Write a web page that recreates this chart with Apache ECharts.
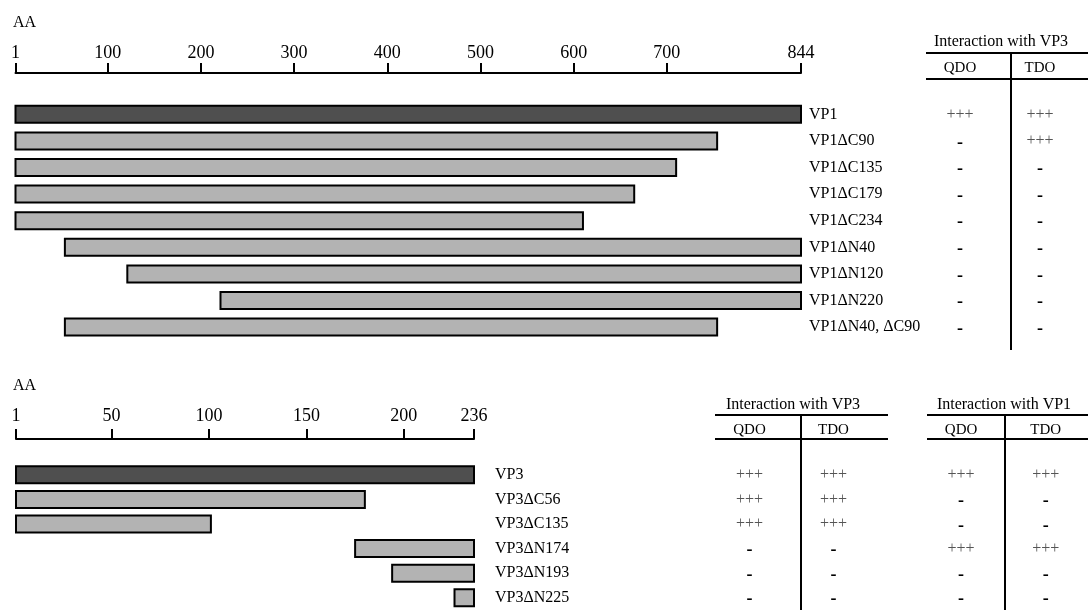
<!DOCTYPE html>
<html>
<head>
<meta charset="utf-8">
<script src="https://cdn.jsdelivr.net/npm/echarts@6/dist/echarts.min.js"></script>
<style>
html,body{margin:0;padding:0;background:#fff;}
#chart{width:1088px;height:610px;}
</style>
</head>
<body>
<div id="chart"></div>
<script>
// ---------- DATA ----------
const vp1Ticks = [1, 100, 200, 300, 400, 500, 600, 700, 844];
const vp1Names = ['VP1', 'VP1ΔC90', 'VP1ΔC135', 'VP1ΔC179', 'VP1ΔC234', 'VP1ΔN40', 'VP1ΔN120', 'VP1ΔN220', 'VP1ΔN40, ΔC90'];
const vp1Start = [1, 1, 1, 1, 1, 54, 121, 221, 54];
const vp1End = [844, 754, 710, 665, 610, 844, 844, 844, 754];
const vp1QdoWithVP3 = ['+++', '-', '-', '-', '-', '-', '-', '-', '-'];
const vp1TdoWithVP3 = ['+++', '+++', '-', '-', '-', '-', '-', '-', '-'];

const vp3Ticks = [1, 50, 100, 150, 200, 236];
const vp3Names = ['VP3', 'VP3ΔC56', 'VP3ΔC135', 'VP3ΔN174', 'VP3ΔN193', 'VP3ΔN225'];
const vp3Start = [1, 1, 1, 175, 194, 226];
const vp3End = [236, 180, 101, 236, 236, 236];
const vp3QdoWithVP3 = ['+++', '+++', '+++', '-', '-', '-'];
const vp3TdoWithVP3 = ['+++', '+++', '+++', '-', '-', '-'];
const vp3QdoWithVP1 = ['+++', '-', '-', '+++', '-', '-'];
const vp3TdoWithVP1 = ['+++', '-', '-', '+++', '-', '-'];

const tableCols = ['QDO', 'TDO'];
const headerVP3 = 'Interaction with VP3';
const headerVP1 = 'Interaction with VP1';
const unitLabel = 'AA';

// ---------- STYLE ----------
const SERIF = '"Liberation Serif", "DejaVu Serif", serif';
const chart = echarts.init(document.getElementById('chart'), null, {renderer: 'canvas'});

function barSeries(xi, yi, starts, ends, h) {
  return {
    type: 'custom', xAxisIndex: xi, yAxisIndex: yi, silent: true,
    data: starts.map((s, i) => [i, s, ends[i]]),
    encode: {x: [1, 2], y: 0},
    renderItem: function (params, api) {
      const r = api.value(0);
      const a = api.coord([api.value(1), r]);
      const b = api.coord([api.value(2), r]);
      return {
        type: 'rect',
        shape: {x: a[0], y: a[1] - h / 2, width: b[0] - a[0], height: h},
        style: {fill: r === 0 ? '#4f4f4f' : '#b3b3b3', stroke: '#000', lineWidth: 2}
      };
    }
  };
}

function tableSeries(xi, yi, cols) {
  const data = [];
  cols.forEach((col, c) => col.forEach((t, r) => data.push([c, r, t])));
  return {
    type: 'custom', xAxisIndex: xi, yAxisIndex: yi, silent: true,
    data: data.map(d => [d[0], d[1]]),
    encode: {x: 0, y: 1},
    renderItem: function (params, api) {
      const p = api.coord([api.value(0), api.value(1)]);
      const t = data[params.dataIndex][2];
      const dash = t === '-';
      return {
        type: 'text', x: p[0], y: p[1] + (dash ? 2 : 0),
        style: {
          text: t, align: 'center', verticalAlign: 'middle',
          font: dash ? 'bold 18px ' + SERIF : '16px ' + SERIF,
          fill: dash ? '#000' : '#555'
        }
      };
    }
  };
}

function rulerAxis(grid, min, max, ticks, offset, margin) {
  return {
    type: 'value', gridIndex: grid, min: min, max: max, position: 'top', offset: offset,
    axisLine: {show: true, lineStyle: {color: '#000', width: 2}},
    axisTick: {show: true, customValues: ticks, length: 10, inside: false, lineStyle: {color: '#000', width: 2}},
    axisLabel: {show: true, customValues: ticks, margin: margin, showMinLabel: true, showMaxLabel: true,
      fontFamily: SERIF, fontSize: 18, color: '#000', formatter: v => String(v)},
    splitLine: {show: false}
  };
}

function tableXAxis(grid, margin) {
  return {
    type: 'category', gridIndex: grid, data: tableCols, position: 'top',
    axisLine: {show: false}, axisTick: {show: false},
    axisLabel: {margin: margin, fontFamily: SERIF, fontSize: 15, color: '#000'},
    splitLine: {show: false}
  };
}

function nameYAxis(grid, names, margin) {
  return {
    type: 'category', gridIndex: grid, data: names, inverse: true, position: 'right',
    axisLine: {show: false}, axisTick: {show: false},
    axisLabel: {margin: margin, align: 'left', fontFamily: SERIF, fontSize: 16, color: '#000'},
    splitLine: {show: false}
  };
}

function hiddenYAxis(grid, names) {
  return {type: 'category', gridIndex: grid, data: names, inverse: true, show: false};
}

function line(x1, y1, x2, y2) {
  return {type: 'line', silent: true, shape: {x1, y1, x2, y2}, style: {stroke: '#000', lineWidth: 2}};
}
function text(str, x, y, size, align) {
  return {type: 'text', silent: true, x: x, y: y,
    style: {text: str, font: size + 'px ' + SERIF, fill: '#000', align: align || 'center', verticalAlign: 'middle'}};
}

const option = {
  backgroundColor: '#fff',
  animation: false,
  grid: [
    {left: 15.5, top: 101, width: 785.5, height: 239.4},
    {left: 920, top: 101, width: 160, height: 239.4},
    {left: 16, top: 462.55, width: 458, height: 149.4},
    {left: 707.5, top: 462.55, width: 168, height: 149.4},
    {left: 918.75, top: 462.55, width: 171, height: 149.4}
  ],
  xAxis: [
    rulerAxis(0, 1, 844, vp1Ticks, 28, 11),
    tableXAxis(1, 25),
    rulerAxis(2, 1, 236, vp3Ticks, 23.55, 14),
    tableXAxis(3, 25),
    tableXAxis(4, 25)
  ],
  yAxis: [
    nameYAxis(0, vp1Names, 8),
    hiddenYAxis(1, vp1Names),
    nameYAxis(2, vp3Names, 21),
    hiddenYAxis(3, vp3Names),
    hiddenYAxis(4, vp3Names)
  ],
  series: [
    barSeries(0, 0, vp1Start, vp1End, 17),
    tableSeries(1, 1, [vp1QdoWithVP3, vp1TdoWithVP3]),
    barSeries(2, 2, vp3Start, vp3End, 17),
    tableSeries(3, 3, [vp3QdoWithVP3, vp3TdoWithVP3]),
    tableSeries(4, 4, [vp3QdoWithVP1, vp3TdoWithVP1])
  ],
  graphic: [
    text(unitLabel, 13, 23, 16, 'left'),
    text(unitLabel, 13, 386, 16, 'left'),
    // top table
    text(headerVP3, 1001, 42, 16),
    line(926, 53, 1088, 53), line(926, 79, 1088, 79), line(1011, 53, 1011, 350),
    // bottom table 1
    text(headerVP3, 793, 405, 16),
    line(715, 415, 888, 415), line(715, 439, 888, 439), line(801, 415, 801, 610),
    // bottom table 2
    text(headerVP1, 1004, 405, 16),
    line(927, 415, 1088, 415), line(927, 439, 1088, 439), line(1005, 415, 1005, 610)
  ]
};
chart.setOption(option);
</script>
</body>
</html>
